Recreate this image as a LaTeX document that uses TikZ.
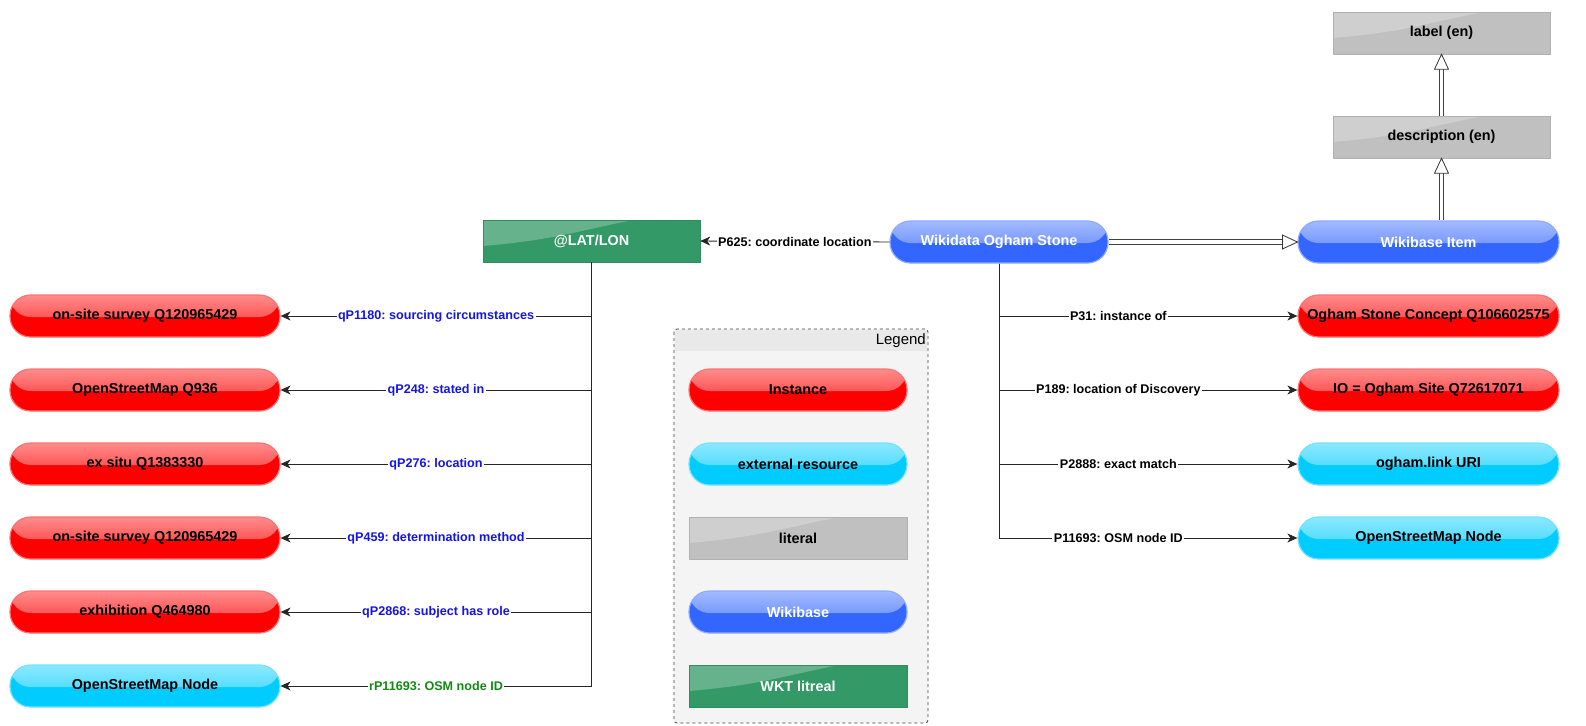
\documentclass[tikz,border=0pt]{standalone}
\usepackage{fontspec}
\setmainfont{Liberation Sans}
\usetikzlibrary{arrows.meta,calc}
\definecolor{cred}{HTML}{FF0000}
\definecolor{ccyan}{HTML}{00CCFF}
\definecolor{cblue}{HTML}{3366FF}
\definecolor{cgray}{HTML}{C0C0C0}
\definecolor{cgreen}{HTML}{339966}
\definecolor{lblue}{HTML}{1414E6}
\definecolor{lgreen}{HTML}{128A12}
\definecolor{legfill}{HTML}{F4F4F4}
\definecolor{leghead}{HTML}{E9E9E9}
\tikzset{
  pill/.style={rectangle, rounded corners=20.5pt, minimum height=42pt, inner sep=0pt,
    fill=#1, draw=#1!55!white, line width=1.2pt,
    font=\fontsize{14.4}{16}\selectfont\bfseries,
    path picture={\shade[top color=#1!45!white, bottom color=#1!85!white]
      (path picture bounding box.north west) rectangle ([yshift=-1pt]path picture bounding box.east);}},
  flatbox/.style={rectangle, minimum height=42pt, inner sep=0pt,
    fill=#1, draw=#1!92!black, line width=0.5pt,
    font=\fontsize{14.4}{16}\selectfont\bfseries,
    path picture={\fill[white,opacity=.25] (path picture bounding box.north west) -- ++(150,0)
      .. controls +(-60,12) and +(70,-6) .. ([yshift=-26pt]path picture bounding box.north west) -- cycle;}},
  conn/.style={draw=black!85, line width=0.9pt, -{Stealth[length=10pt,width=9pt,inset=3pt]}},
  elab/.style={fill=white, inner sep=1.5pt, font=\fontsize{12.6}{14}\selectfont\bfseries},
  rail/.style={draw=black!75, line width=0.9pt},
  hollowtip/.style={draw=black!80, line width=0.8pt, fill=white, line join=miter},
}
\begin{document}
\frenchspacing
\begin{tikzpicture}[x=1pt,y=-1pt]
\useasboundingbox (0,0) rectangle (1586,725);

% legend container
\draw[black!75, dashed, line width=0.8pt, fill=legfill, rounded corners=3pt] (674,329) rectangle (928,723);
\fill[leghead] (675,330) rectangle (927,351);
\node[anchor=north east, inner sep=0pt, font=\fontsize{15}{17}\selectfont] (legtitle) at (926,333) {Legend};
\node[pill=cred, minimum width=218pt] (kinst) at (798,390) {Instance};
\node[pill=ccyan, minimum width=218pt] (kext) at (798,464) {external resource};
\node[flatbox=cgray, minimum width=218pt] (klit) at (798,538) {literal};
\node[pill=cblue, minimum width=218pt, text=white] (kwb) at (798,612) {Wikibase};
\node[flatbox=cgreen, minimum width=218pt, text=white] (kwkt) at (798,686) {WKT litreal};

% main nodes
\node[flatbox=cgreen, minimum width=217pt, text=white] (lat) at (591.5,241) {@LAT/LON};
\node[pill=cblue, minimum width=218pt, text=white] (wd) at (999,242) {Wikidata Ogham Stone};
\node[pill=cblue, minimum width=261pt, text=white] (wbi) at (1428.5,242) {Wikibase Item};
\node[flatbox=cgray, minimum width=217pt] (desc) at (1441.5,137) {description (en)};
\node[flatbox=cgray, minimum width=217pt] (lab) at (1441.5,33) {label (en)};

% left nodes
\node[pill=cred, minimum width=270pt] (l1) at (145,316) {on-site survey Q120965429};
\node[pill=cred, minimum width=270pt] (l2) at (145,390) {OpenStreetMap Q936};
\node[pill=cred, minimum width=270pt] (l3) at (145,464) {ex situ Q1383330};
\node[pill=cred, minimum width=270pt] (l4) at (145,538) {on-site survey Q120965429};
\node[pill=cred, minimum width=270pt] (l5) at (145,612) {exhibition Q464980};
\node[pill=ccyan, minimum width=270pt] (l6) at (145,686) {OpenStreetMap Node};

% right nodes
\node[pill=cred, minimum width=261pt] (r1) at (1428.5,316) {Ogham Stone Concept Q106602575};
\node[pill=cred, minimum width=261pt] (r2) at (1428.5,390) {IO = Ogham Site Q72617071};
\node[pill=ccyan, minimum width=261pt] (r3) at (1428.5,464) {ogham.link URI};
\node[pill=ccyan, minimum width=261pt] (r4) at (1428.5,538) {OpenStreetMap Node};

% coordinate edge
\draw[conn] (wd.west) -- (lat.east) node[elab, midway] {P625: coordinate location};

% left edges
\draw[conn] (lat.south) |- (l1.east) node[elab, pos=0.75, text=lblue] {qP1180: sourcing circumstances};
\draw[conn] (lat.south) |- (l2.east) node[elab, pos=0.75, text=lblue] {qP248: stated in};
\draw[conn] (lat.south) |- (l3.east) node[elab, pos=0.75, text=lblue] {qP276: location};
\draw[conn] (lat.south) |- (l4.east) node[elab, pos=0.75, text=lblue] {qP459: determination method};
\draw[conn] (lat.south) |- (l5.east) node[elab, pos=0.75, text=lblue] {qP2868: subject has role};
\draw[conn] (lat.south) |- (l6.east) node[elab, pos=0.75, text=lgreen] {rP11693: OSM node ID};

% right edges
\draw[conn] (wd.south) |- (r1.west) node[elab, pos=0.70] {P31: instance of};
\draw[conn] (wd.south) |- (r2.west) node[elab, pos=0.70] {P189: location of Discovery};
\draw[conn] (wd.south) |- (r3.west) node[elab, pos=0.70] {P2888: exact match};
\draw[conn] (wd.south) |- (r4.west) node[elab, pos=0.70] {P11693: OSM node ID};

% double (subclass-like) arrows
\draw[rail] ([yshift=2.1pt]wd.east) -- ([xshift=-13pt,yshift=2.1pt]wbi.west);
\draw[rail] ([yshift=-2.1pt]wd.east) -- ([xshift=-13pt,yshift=-2.1pt]wbi.west);
\draw[hollowtip] (wbi.west) -- ++(-15,-7) -- ++(0,14) -- cycle;
\draw[rail] ([xshift=-2.1pt]wbi.north -| desc.south) -- ([xshift=-2.1pt,yshift=-13pt]desc.south);
\draw[rail] ([xshift=2.1pt]wbi.north -| desc.south) -- ([xshift=2.1pt,yshift=-13pt]desc.south);
\draw[hollowtip] (desc.south) -- ++(-7,15) -- ++(14,0) -- cycle;
\draw[rail] ([xshift=-2.1pt]desc.north) -- ([xshift=-2.1pt,yshift=-13pt]lab.south);
\draw[rail] ([xshift=2.1pt]desc.north) -- ([xshift=2.1pt,yshift=-13pt]lab.south);
\draw[hollowtip] (lab.south) -- ++(-7,15) -- ++(14,0) -- cycle;
\end{tikzpicture}
\end{document}
